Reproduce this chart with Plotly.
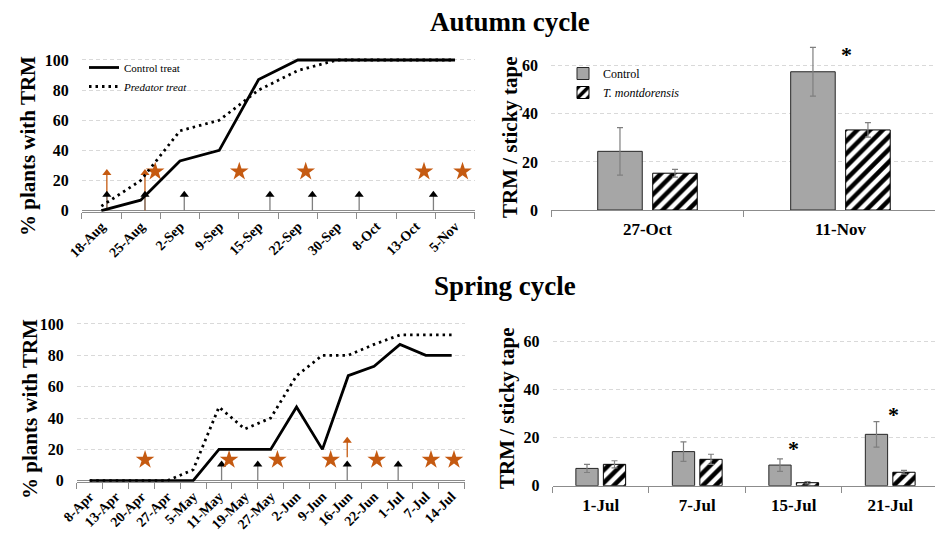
import plotly.graph_objects as go

FONT = "Liberation Serif"
ORANGE = "#C55A11"
GRID = "#D9D9D9"
AXIS = "#8C8C8C"
BAR_GREY = "#A6A6A6"
ERR = "#7F7F7F"

# ---------------- Autumn cycle: % plants with TRM ----------------
autumn_dates = ["18-Aug", "25-Aug", "2-Sep", "9-Sep", "15-Sep", "22-Sep",
                "30-Sep", "8-Oct", "13-Oct", "5-Nov"]
autumn_control = [0, 7, 33, 40, 87, 100, 100, 100, 100, 100]
autumn_predator = [3, 20, 53, 60, 80, 93, 100, 100, 100, 100]

# release markers (positions in category units)
autumn_star_x = [1.37, 3.51, 5.20, 8.21, 9.19]
autumn_star_y = [26, 26, 26, 26, 26]
autumn_black_arrow_x = [0.14, 1.11, 2.11, 4.29, 5.37, 6.56, 8.45]
autumn_black_arrow_tip = [10.5, 10.5, 10.5, 10.5, 10.5, 10.5, 10.5]
autumn_orange_arrow_x = [0.14, 1.11]
autumn_orange_arrow_base = [0, 0]
autumn_orange_arrow_tip = [25, 25]

# ---------------- Spring cycle: % plants with TRM ----------------
spring_dates = ["8-Apr", "13-Apr", "20-Apr", "27-Apr", "5-May", "11-May",
                "19-May", "27-May", "2-Jun", "9-Jun", "16-Jun", "22-Jun",
                "1-Jul", "7-Jul", "14-Jul"]
spring_control = [0, 0, 0, 0, 0, 20, 20, 20, 47, 20, 67, 73, 87, 80, 80]
spring_predator = [0, 0, 0, 0, 7, 47, 33, 40, 67, 80, 80, 87, 93, 93, 93]

spring_star_x = [2.14, 5.39, 7.26, 9.32, 11.10, 13.20, 14.09]
spring_star_y = [13.3, 13.3, 13.3, 13.3, 13.3, 13.3, 13.3]
spring_black_arrow_x = [5.10, 6.50, 9.96, 11.93]
spring_black_arrow_tip = [10.3, 10.3, 10.3, 10.3]
spring_orange_arrow_x = [9.96]
spring_orange_arrow_base = [15]
spring_orange_arrow_tip = [25.5]

# ---------------- TRM / sticky tape bars ----------------
autumn_bar_dates = ["27-Oct", "11-Nov"]
autumn_ctrl = [24.4, 57.5]
autumn_ctrl_err = [9.9, 10.1]
autumn_tm = [15.3, 33.3]
autumn_tm_err = [1.6, 3.0]
autumn_sig_x = [1.03]
autumn_sig_y = [64.5]

spring_bar_dates = ["1-Jul", "7-Jul", "15-Jul", "21-Jul"]
spring_ctrl = [7.2, 14.2, 8.6, 21.4]
spring_ctrl_err = [1.7, 4.1, 2.6, 5.3]
spring_tm = [8.9, 11.0, 1.25, 5.6]
spring_tm_err = [1.5, 2.1, 0.5, 0.8]
spring_sig_x = [2.0, 3.03]
spring_sig_y = [15.7, 29.7]

fig = go.Figure()


def serif(text):
    return "<span style='font-family:Liberation Serif, Times New Roman, serif'>" + text + "</span>"


def add_arrows(xs, bases, tips, shaft_color, head_color, xa, ya):
    sx, sy = [], []
    for x, b, t in zip(xs, bases, tips):
        sx += [x, x, None]
        sy += [b, t, None]
    fig.add_trace(go.Scatter(x=sx, y=sy, mode="lines", xaxis=xa, yaxis=ya,
                             line=dict(color=shaft_color, width=1.3),
                             showlegend=False, hoverinfo="skip"))
    fig.add_trace(go.Scatter(x=xs, y=tips, mode="markers", xaxis=xa, yaxis=ya,
                             marker=dict(symbol="triangle-up", size=8,
                                         color=head_color, line=dict(width=0)),
                             showlegend=False, hoverinfo="skip"))


def add_stars(xs, ys, xa, ya):
    fig.add_trace(go.Scatter(x=xs, y=ys, mode="markers", xaxis=xa, yaxis=ya,
                             marker=dict(symbol="star", size=14, color=ORANGE,
                                         line=dict(width=0)),
                             showlegend=False, hoverinfo="skip", cliponaxis=False))


# Autumn line chart
add_arrows(autumn_orange_arrow_x, autumn_orange_arrow_base, autumn_orange_arrow_tip,
           ORANGE, ORANGE, "x", "y")
add_arrows(autumn_black_arrow_x, [0] * len(autumn_black_arrow_x), autumn_black_arrow_tip,
           "#808080", "black", "x", "y")
add_stars(autumn_star_x, autumn_star_y, "x", "y")
fig.add_trace(go.Scatter(x=list(range(len(autumn_dates))), y=autumn_control,
                         mode="lines", name=serif("Control treat"), xaxis="x", yaxis="y",
                         line=dict(color="black", width=2.8), legend="legend"))
fig.add_trace(go.Scatter(x=list(range(len(autumn_dates))), y=autumn_predator,
                         mode="lines", name=serif("<i>Predator treat</i>"), xaxis="x", yaxis="y",
                         line=dict(color="black", width=2.8, dash="2.5px,4px"),
                         legend="legend"))

# Spring line chart
add_arrows(spring_orange_arrow_x, spring_orange_arrow_base, spring_orange_arrow_tip,
           ORANGE, ORANGE, "x3", "y3")
add_arrows(spring_black_arrow_x, [0] * len(spring_black_arrow_x), spring_black_arrow_tip,
           "#808080", "black", "x3", "y3")
add_stars(spring_star_x, spring_star_y, "x3", "y3")
fig.add_trace(go.Scatter(x=list(range(len(spring_dates))), y=spring_control,
                         mode="lines", xaxis="x3", yaxis="y3", showlegend=False,
                         line=dict(color="black", width=2.8)))
fig.add_trace(go.Scatter(x=list(range(len(spring_dates))), y=spring_predator,
                         mode="lines", xaxis="x3", yaxis="y3", showlegend=False,
                         line=dict(color="black", width=2.8, dash="2.5px,4px")))


def add_bars(dates, ctrl, ctrl_err, tm, tm_err, xa, ya, show):
    fig.add_trace(go.Bar(x=dates, y=ctrl, name=serif("Control"), xaxis=xa, yaxis=ya,
                         error_y=dict(type="data", array=ctrl_err, color=ERR,
                                      thickness=1.2, width=3),
                         marker=dict(color=BAR_GREY, line=dict(color="#262626", width=1)),
                         showlegend=show, legend="legend2"))
    fig.add_trace(go.Bar(x=dates, y=tm, name=serif("<i>T. montdorensis</i>"), xaxis=xa, yaxis=ya,
                         error_y=dict(type="data", array=tm_err, color=ERR,
                                      thickness=1.2, width=3),
                         marker=dict(color="white",
                                     pattern=dict(shape="/", fgcolor="black", bgcolor="white",
                                                  size=9, solidity=0.5),
                                     line=dict(color="black", width=1)),
                         showlegend=show, legend="legend2"))


add_bars(autumn_bar_dates, autumn_ctrl, autumn_ctrl_err, autumn_tm, autumn_tm_err,
         "x2", "y2", True)
add_bars(spring_bar_dates, spring_ctrl, spring_ctrl_err, spring_tm, spring_tm_err,
         "x4", "y4", False)

annotations = []
for sx, sy in zip(autumn_sig_x, autumn_sig_y):
    annotations.append(dict(x=sx, y=sy, xref="x2", yref="y2", text="<b>*</b>",
                            showarrow=False, xanchor="center", yanchor="middle",
                            font=dict(family=FONT, size=22, color="black")))
for sx, sy in zip(spring_sig_x, spring_sig_y):
    annotations.append(dict(x=sx, y=sy, xref="x4", yref="y4", text="<b>*</b>",
                            showarrow=False, xanchor="center", yanchor="middle",
                            font=dict(family=FONT, size=22, color="black")))


def paper_text(px, py, text, size, angle=0):
    return dict(x=px / 935, y=1 - py / 542, xref="paper", yref="paper", text=text,
                textangle=angle, showarrow=False, xanchor="center", yanchor="middle",
                font=dict(family=FONT, size=size, color="black"))


annotations += [
    paper_text(510, 22, "<b>Autumn cycle</b>", 27),
    paper_text(505, 286, "<b>Spring cycle</b>", 27),
    paper_text(28, 146, "<b>% plants with TRM</b>", 21, -90),
    paper_text(30, 409, "<b>% plants with TRM</b>", 21, -90),
    paper_text(510, 137, "<b>TRM / sticky tape</b>", 21, -90),
    paper_text(507, 408, "<b>TRM / sticky tape</b>", 21, -90),
]

tickfont_y = dict(family=FONT, size=16, color="black", weight="bold")


def line_xaxis(n, domain, anchor, labels):
    return dict(domain=domain, anchor=anchor, range=[-0.5, n - 0.5], automargin=False,
                tickmode="array", tickvals=list(range(n)), ticktext=labels,
                tickangle=-45, ticks="", showgrid=False, zeroline=False,
                showline=True, linecolor=AXIS, linewidth=1,
                tickfont=dict(family=FONT, size=14, color="black", weight="bold"),
                minor=dict(tickvals=[i - 0.5 for i in range(n + 1)], ticks="outside",
                           ticklen=6, tickcolor=AXIS, tickwidth=1, showgrid=False))


def line_yaxis(domain, anchor):
    return dict(domain=domain, anchor=anchor, range=[-0.7, 103.5], automargin=False,
                tickmode="array", tickvals=[0, 20, 40, 60, 80, 100],
                showgrid=True, gridcolor=GRID, griddash="4px,3px", gridwidth=1,
                zeroline=True, zerolinecolor=AXIS, zerolinewidth=1,
                showline=False, ticks="", ticklabelstandoff=12, tickfont=tickfont_y)


def bar_xaxis(domain, anchor, rng):
    return dict(domain=domain, anchor=anchor, type="category", range=rng, automargin=False,
                tickson="boundaries", ticks="outside", ticklen=6, tickcolor=AXIS,
                showline=True, linecolor=AXIS, linewidth=1, showgrid=False,
                ticklabelstandoff=4,
                tickfont=dict(family=FONT, size=17, color="black", weight="bold"))


def bar_yaxis(domain, anchor):
    return dict(domain=domain, anchor=anchor, range=[0, 70], automargin=False,
                tickmode="array", tickvals=[0, 20, 40, 60],
                showgrid=True, gridcolor=GRID, griddash="4px,3px", gridwidth=1,
                zeroline=False, showline=False, ticks="", ticklabelstandoff=12,
                tickfont=tickfont_y)


fig.update_layout(
    template="none",
    width=935, height=542,
    margin=dict(l=0, r=0, t=0, b=0, pad=0, autoexpand=False),
    paper_bgcolor="white", plot_bgcolor="white",
    font=dict(family=FONT, color="black"),
    barmode="group", bargap=0.43, bargroupgap=0.19,
    xaxis=line_xaxis(len(autumn_dates), [81.7 / 935, 474.7 / 935], "y", autumn_dates),
    yaxis=line_yaxis([1 - 211.75 / 542, 1 - 54.7 / 542], "x"),
    xaxis3=line_xaxis(len(spring_dates), [76.8 / 935, 464.6 / 935], "y3", spring_dates),
    yaxis3=line_yaxis([1 - 481.8 / 542, 1 - 318.5 / 542], "x3"),
    xaxis2=bar_xaxis([551 / 935, 1.0], "y2", [-0.5, 1.49]),
    yaxis2=bar_yaxis([1 - 210 / 542, 1 - 41.7 / 542], "x2"),
    xaxis4=bar_xaxis([552.5 / 935, 1.0], "y4", [-0.5, 3.464]),
    yaxis4=bar_yaxis([1 - 485.7 / 542, 1 - 317.7 / 542], "x4"),
    legend=dict(x=84 / 935, y=1 - 53 / 542, xanchor="left", yanchor="top",
                bgcolor="rgba(0,0,0,0)",
                font=dict(family=FONT, size=11, color="black"),
                itemwidth=30, tracegroupgap=0),
    legend2=dict(x=563 / 935, y=1 - 59 / 542, xanchor="left", yanchor="top",
                 bgcolor="rgba(0,0,0,0)",
                 font=dict(family=FONT, size=12, color="black"),
                 itemwidth=30, tracegroupgap=0),
    annotations=annotations,
    showlegend=True,
)

fig.write_html("out.html", config={"displayModeBar": False},
               post_script="document.body.style.margin='0px';")
